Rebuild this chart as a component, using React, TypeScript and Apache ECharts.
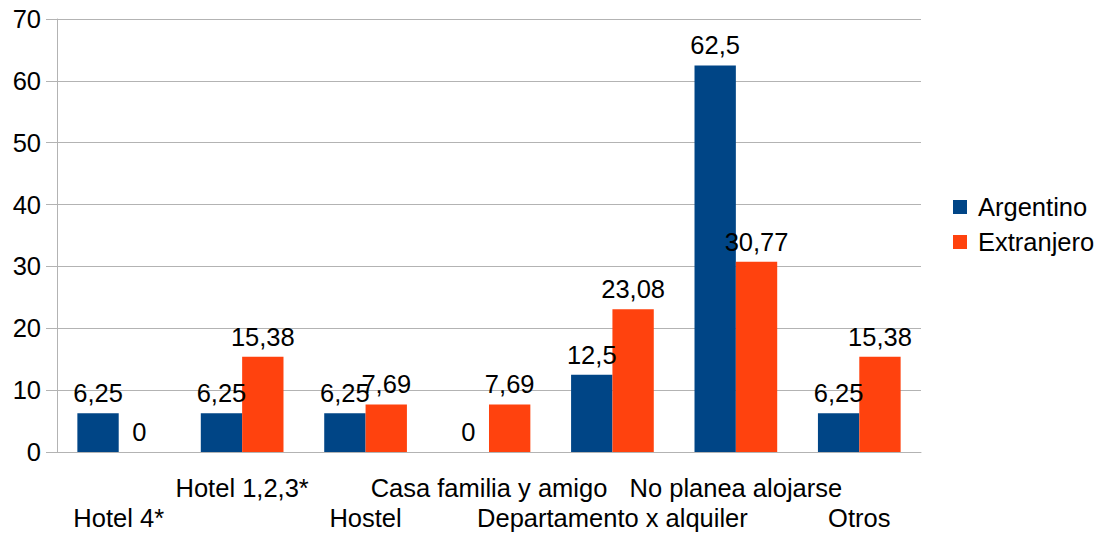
import React, { useEffect, useRef } from "react";
import * as echarts from "echarts";

const categories = ["Hotel 4*", "Hotel 1,2,3*", "Hostel", "Casa familia y amigo", "Departamento x alquiler", "No planea alojarse", "Otros"];
const argentino = [6.25, 6.25, 6.25, 0, 12.5, 62.5, 6.25];
const extranjero = [0, 15.38, 7.69, 7.69, 23.08, 30.77, 15.38];
const yTicks = [0, 10, 20, 30, 40, 50, 60, 70];

const FONT = "Liberation Sans";
const FS = 25.5;

export default function App() {
  const ref = useRef<HTMLDivElement>(null);
  useEffect(() => {
    document.body.style.margin = "0";
    const chart = echarts.init(ref.current!, null, { renderer: "svg" });
    const fmt = (p: any) => String(p.value).replace(".", ",");
    const label = {
      show: true,
      position: "top" as const,
      distance: 7,
      color: "#000",
      fontSize: FS,
      fontFamily: FONT,
      formatter: fmt,
    };
    chart.setOption({
      animation: false,
      textStyle: { fontFamily: FONT },
      grid: { left: 57, right: 181, top: 19, bottom: 80 },
      legend: {
        orient: "vertical",
        left: 953,
        top: 194,
        padding: 0,
        itemWidth: 14,
        itemHeight: 14,
        itemGap: 9,
        icon: "rect",
        textStyle: { fontSize: FS, color: "#000", fontFamily: FONT, padding: [0, 0, 0, 6] },
        data: ["Argentino", "Extranjero"],
      },
      xAxis: {
        type: "category",
        data: categories,
        axisLine: { lineStyle: { color: "#b3b3b3" } },
        axisTick: { length: 10, lineStyle: { color: "#b3b3b3" } },
        axisLabel: {
          interval: 0,
          margin: 21,
          color: "#000",
          fontSize: FS,
          fontFamily: FONT,
          lineHeight: 30,
          formatter: (v: string, i: number) => (i % 2 === 0 ? "\n" + v : v),
        },
      },
      yAxis: {
        type: "value",
        min: yTicks[0],
        max: yTicks[yTicks.length - 1],
        interval: 10,
        axisLine: { show: true, lineStyle: { color: "#b3b3b3" } },
        axisTick: { show: true, length: 11, lineStyle: { color: "#b3b3b3" } },
        splitLine: { lineStyle: { color: "#b3b3b3" } },
        axisLabel: { margin: 16, color: "#000", fontSize: FS, fontFamily: FONT },
      },
      series: [
        {
          name: "Argentino",
          type: "bar",
          data: argentino,
          itemStyle: { color: "#004586" },
          barGap: "0%",
          barCategoryGap: "33%",
          label,
        },
        {
          name: "Extranjero",
          type: "bar",
          data: extranjero,
          itemStyle: { color: "#ff420e" },
          barGap: "0%",
          barCategoryGap: "33%",
          label,
        },
      ],
    });
    return () => chart.dispose();
  }, []);
  return <div ref={ref} style={{ width: 1102, height: 533 }} />;
}
